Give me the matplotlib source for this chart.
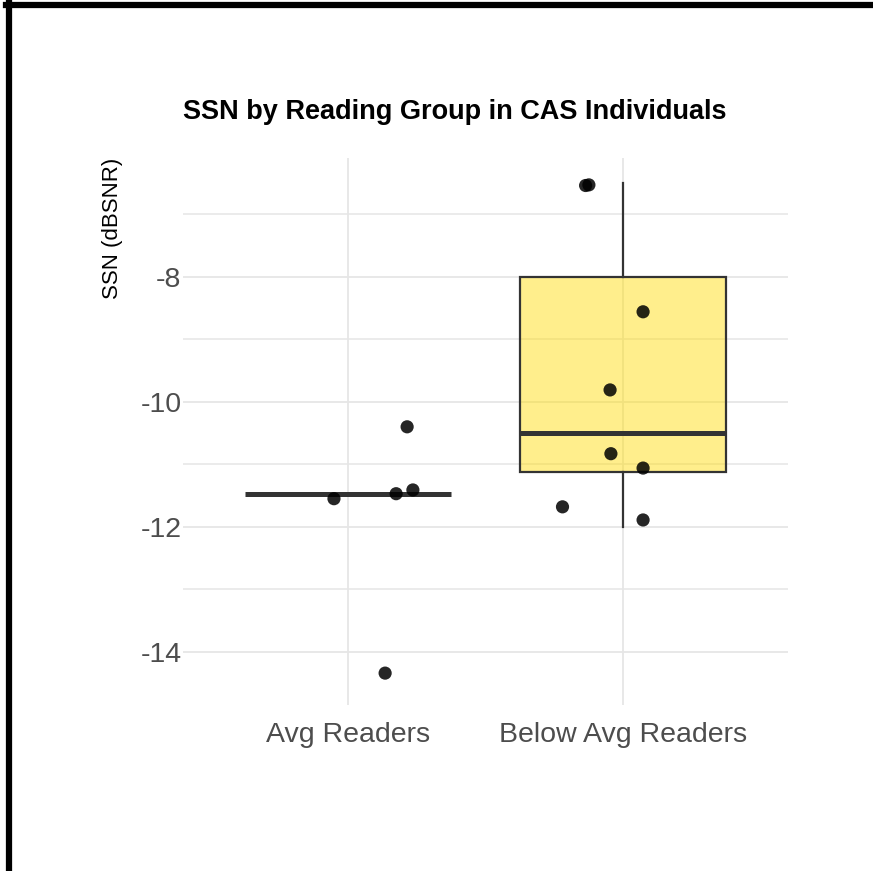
import numpy as np
import matplotlib.pyplot as plt
from matplotlib.lines import Line2D

plt.rcParams['font.family'] = ['Liberation Sans', 'DejaVu Sans']

# categories
groups = ['Avg Readers', 'Below Avg Readers']

# box summaries (q1, median, q3, whisker low, whisker high)
q1 = [-11.48, -11.12]
median = [-11.48, -10.50]
q3 = [-11.48, -8.00]
whis_lo = [-11.48, -12.00]
whis_hi = [-11.48, -6.50]

# individual points (values as plotted) and their horizontal jitter
avg_vals = [-11.55, -11.47, -11.41, -10.40, -14.34]
avg_jit = [-0.051, 0.175, 0.236, 0.215, 0.135]
below_vals = [-6.54, -6.53, -8.56, -9.81, -10.83, -11.06, -11.68, -11.89]
below_jit = [-0.136, -0.124, 0.073, -0.047, -0.044, 0.073, -0.22, 0.073]

fig = plt.figure(figsize=(8.73, 8.71), dpi=100)
ax = fig.add_axes([183/873, 1 - 705/871, (788 - 183)/873, (705 - 158)/871])

pos = [1, 2]
stats = []
for i in range(2):
    stats.append(dict(q1=q1[i], med=median[i], q3=q3[i],
                      whislo=whis_lo[i], whishi=whis_hi[i], fliers=[]))

box_col = '#333333'
fills = [(1, 1, 1, 0), (1.0, 0.86, 0.0, 0.45)]
bp = ax.bxp(stats, positions=pos, widths=0.75, patch_artist=True,
            showcaps=False, showfliers=False,
            boxprops=dict(edgecolor=box_col, linewidth=1.6),
            whiskerprops=dict(color=box_col, linewidth=1.6),
            medianprops=dict(color=box_col, linewidth=3.6, solid_capstyle='butt'))
for patch, fc in zip(bp['boxes'], fills):
    patch.set_facecolor(fc)
bp['boxes'][0].set_linewidth(0)
for w in bp['whiskers'][:2]:
    w.set_visible(False)

ax.scatter(np.array(avg_jit) + 1, avg_vals, s=90, color='black', alpha=0.85,
           edgecolors='none', zorder=4)
ax.scatter(np.array(below_jit) + 2, below_vals, s=90, color='black', alpha=0.85,
           edgecolors='none', zorder=4)

ax.set_xlim(0.4, 2.6)
ax.set_ylim(-14.85, -6.1)
ax.set_xticks(pos)
ax.set_xticklabels(groups)
ax.set_yticks([-8, -10, -12, -14])
ax.set_yticklabels(['-8', '-10', '-12', '-14'])
ax.set_yticks([-7, -9, -11, -13], minor=True)
ax.tick_params(axis='both', which='both', length=0, labelsize=20.5,
               labelcolor='#4D4D4D')
ax.tick_params(axis='y', pad=1)
ax.tick_params(axis='x', pad=12)
ax.grid(True, which='major', color='#E6E6E6', linewidth=1.3)
ax.grid(True, which='minor', axis='y', color='#E6E6E6', linewidth=1.1)
ax.set_axisbelow(True)
for s in ax.spines.values():
    s.set_visible(False)

ax.set_ylabel('SSN (dBSNR)', fontsize=16, color='black')
ax.yaxis.set_label_coords(-0.117, 1.0, transform=ax.transAxes)
ax.yaxis.label.set_horizontalalignment('right')
ax.yaxis.label.set_verticalalignment('center')

fig.text(455/873, 1 - 112/871, 'SSN by Reading Group in CAS Individuals',
         ha='center', va='center', fontsize=19.5, fontweight='bold')

# black frame along top and left edges
fig.add_artist(Line2D([6/873, 1], [1 - 5/871, 1 - 5/871], color='black',
                      linewidth=4.5, transform=fig.transFigure))
fig.add_artist(Line2D([9/873, 9/873], [0, 1 - 2/871], color='black',
                      linewidth=4.5, transform=fig.transFigure))

fig.savefig('out.png', dpi=100)
